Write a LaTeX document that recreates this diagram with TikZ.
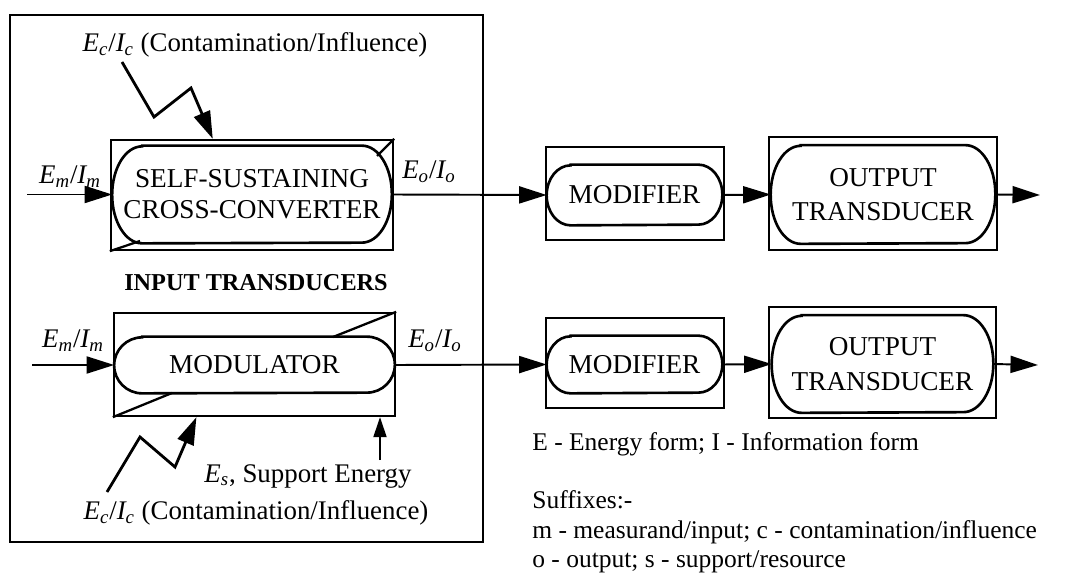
\documentclass[tikz,border=0pt]{standalone}
\usepackage{fontspec}
\setmainfont{Liberation Serif}
\usetikzlibrary{arrows.meta,calc}
\tikzset{
  outerbox/.style={draw,line width=1.3pt,inner sep=0pt},
  innerbox/.style={align=center,inner sep=0pt,font=\fontsize{15.5}{17.5}\selectfont},
  flow/.style={->,line width=1.1pt},
  lbl/.style={font=\fontsize{15.3}{17}\selectfont,inner sep=0pt},
  legend/.style={font=\fontsize{14.5}{16}\selectfont,inner sep=0pt,anchor=base west},
}
\newcommand{\EI}[1]{\textit{E\textsubscript{#1}}/\textit{I\textsubscript{#1}}}
% pill outline round a node: name, end radius, half height
\newcommand{\pill}[3]{\draw[line width=1.5pt] ($(#1.north west)+(#2,0)$) -- ($(#1.north east)+(-#2,0)$)
  arc[start angle=90,end angle=-90,x radius=#2,y radius=#3] -- ($(#1.south west)+(#2,0)$)
  arc[start angle=270,end angle=90,x radius=#2,y radius=#3] -- cycle;}

\begin{document}
\begin{tikzpicture}[x=0.2mm,y=-0.2mm,>={Triangle[length=5.5mm,width=3.4mm]}]
\useasboundingbox (0,0) rectangle (1067,577);
% frame round the input transducers
\draw[line width=1.1pt] (10,15) rectangle (483,542);
\node[font=\bfseries\fontsize{13.8}{15}\selectfont] (title) at (256,283) {INPUT TRANSDUCERS};

% self-sustaining cross-converter
\node[outerbox,minimum width=56.4mm,minimum height=22mm] (ssc) at (252,195) {};
\node[innerbox,minimum width=55.8mm,minimum height=19.4mm] (sscin) at (252,194.5) {SELF-SUSTAINING\\CROSS-CONVERTER};
\pill{sscin}{6mm}{9.7mm}
\draw[line width=1.3pt] (ssc.north east) -- (377,156);
\draw[line width=1.3pt] (ssc.south west) -- (140,241);

% modulator
\node[outerbox,minimum width=56.2mm,minimum height=20.6mm] (modu) at (254.5,364.5) {};
\node[innerbox,minimum width=56mm,minimum height=11.2mm] (moduin) at (254.5,365) {MODULATOR};
\pill{moduin}{5.6mm}{5.6mm}
\draw[line width=1.3pt] (modu.north east) -- (333,337);
\draw[line width=1.3pt] (modu.south west) -- (172,393);

% modifiers and output transducers
\node[outerbox,minimum width=35.6mm,minimum height=18.6mm] (modA) at (635,193.5) {};
\node[innerbox,minimum width=35mm,minimum height=12mm] (modAin) at (634.5,195) {MODIFIER};
\pill{modAin}{4.8mm}{6mm}
\node[outerbox,minimum width=45.6mm,minimum height=22.6mm] (outA) at (883,193.5) {};
\node[innerbox,font=\fontsize{15.5}{19.5}\selectfont,minimum width=44.8mm,minimum height=19.6mm] (outAin) at (883,194.5) {OUTPUT\\TRANSDUCER};
\pill{outAin}{6mm}{9.8mm}
\node[outerbox,minimum width=35.6mm,minimum height=18mm] (modB) at (635,363) {};
\node[innerbox,minimum width=35mm,minimum height=11.4mm] (modBin) at (634.5,364.5) {MODIFIER};
\pill{modBin}{4.8mm}{5.7mm}
\node[outerbox,minimum width=45.4mm,minimum height=22.2mm] (outB) at (882.5,362.5) {};
\node[innerbox,font=\fontsize{15.5}{19.5}\selectfont,minimum width=44.2mm,minimum height=19.4mm] (outBin) at (882.5,364) {OUTPUT\\TRANSDUCER};
\pill{outBin}{6mm}{9.7mm}

% signal flow
\coordinate (inA) at (27,194.5);
\coordinate (inB) at (32,365);
\coordinate (endA) at (1040,195);
\coordinate (endB) at (1038,365);
\draw[flow] (inA) -- (sscin.west);
\draw[flow] (sscin.east) -- (modAin.west);
\draw[flow] (modAin.east) -- (outAin.west);
\draw[flow] (outAin.east) -- (endA);
\draw[flow] (inB) -- (moduin.west);
\draw[flow] (moduin.east) -- (modBin.west);
\draw[flow] (modBin.east) -- (outBin.west);
\draw[flow] (outBin.east) -- (endB);

% contamination and support inputs
\coordinate (ecA) at (122,62);
\coordinate (ecB) at (107,492);
\coordinate (es) at (380,460);
\draw[flow,line width=1.6pt] (ecA) -- (154,117) -- (191,88) -- ($(ssc.north west)!0.362!(ssc.north east)$);
\draw[flow,line width=1.6pt] (ecB) -- (140,437) -- (175,467) -- ($(modu.south west)!0.295!(modu.south east)$);
\draw[flow,>={Triangle[length=4mm,width=2.6mm]}] (es) -- (es |- modu.south);

% labels
\node[lbl] (emA) at (70,177) {\EI{m}};
\node[lbl] (emB) at (73,341) {\EI{m}};
\node[lbl] (eoA) at (429,172) {\EI{o}};
\node[lbl] (eoB) at (435,341) {\EI{o}};
\node[lbl] (ecAlbl) at (255,45) {\EI{c} (Contamination/Influence)};
\node[lbl] (ecBlbl) at (256,513) {\EI{c} (Contamination/Influence)};
\node[lbl] (eslbl) at (308,476) {\textit{E\textsubscript{s}}, Support Energy};

% legend
\node[legend] (key) at (532,450) {E - Energy form; I - Information form};
\node[legend] (suf) at (532,508) {Suffixes:-};
\node[legend] (sufA) at (532,538) {m - measurand/input; c - contamination/influence};
\node[legend] (sufB) at (532,567) {o - output; s - support/resource};
\end{tikzpicture}
\end{document}
